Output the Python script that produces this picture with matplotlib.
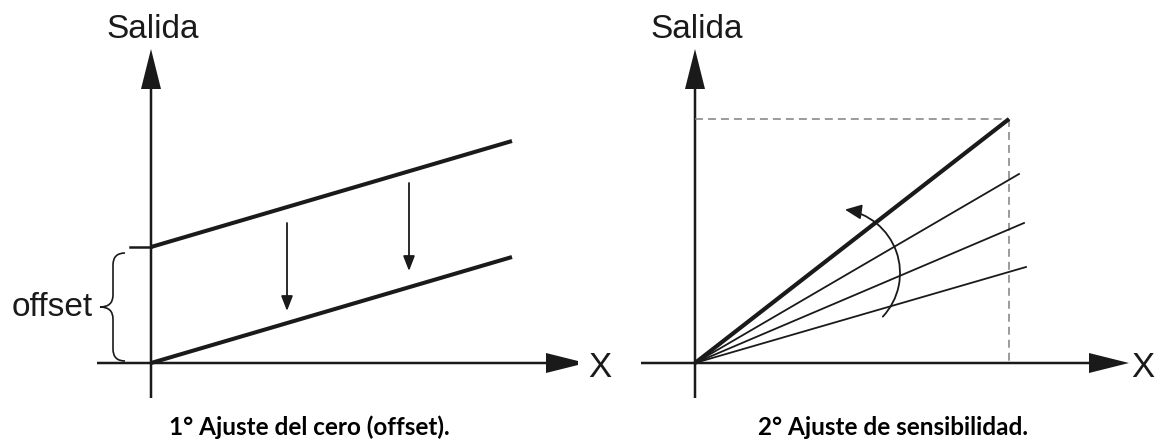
import matplotlib
matplotlib.use("Agg")
import matplotlib.pyplot as plt
from matplotlib.patches import FancyArrowPatch, PathPatch
from matplotlib.path import Path
from matplotlib.transforms import Affine2D

# units: pixels from each panel's origin (x right, y up)
# left panel: zero adjustment
line_x = [0, 361]
upper_y = [116, 222]
lower_y = [0, 106]
shift_x = [136, 258]
shift_top = [140, 180]
shift_bottom = [52, 92]

# right panel: sensitivity adjustment
full_x = 314
full_y = 244
thin_end_x = [324, 329, 331]
thin_end_y = [189, 140, 96]
turn_center = (141, 90)
turn_radius = 64
turn_angles = (-43, 82)

ink = "#1a1a1a"
label_font = "Liberation Sans"
caption_font = "Lato"

fig = plt.figure(figsize=(11.56, 4.44), dpi=100)
ax1 = fig.add_axes([0, 0, 0.5, 1])
ax2 = fig.add_axes([0.5, 0, 0.5, 1])
ax1.set_xlim(-151, 427)
ax2.set_xlim(-117, 461)
for ax in (ax1, ax2):
    ax.set_ylim(-81, 363)
    ax.axis("off")


def draw_axes(ax, x_end):
    # vertical axis with arrow
    ax.arrow(0, -35, 0, 349, width=2.5, head_width=20, head_length=40,
             length_includes_head=True, color=ink, lw=0)
    # horizontal axis with arrow
    ax.arrow(-54, 0, x_end + 54, 0, width=2.5, head_width=20, head_length=40,
             length_includes_head=True, color=ink, lw=0)
    ax.text(2, 325, "Salida", ha="center", va="baseline", fontsize=24,
            family=label_font, color=ink)
    ax.text(x_end + 14, -14, "X", ha="center", va="baseline", fontsize=25,
            family=label_font, color=ink)


draw_axes(ax1, 435)
draw_axes(ax2, 434)

# ---- left panel ----
ax1.plot(line_x, upper_y, color=ink, lw=2.9, solid_capstyle="butt")
ax1.plot(line_x, lower_y, color=ink, lw=2.9, solid_capstyle="butt")
ax1.plot([-21, 0], [upper_y[0], upper_y[0]], color=ink, lw=1.8)

for x, y0, y1 in zip(shift_x, shift_top, shift_bottom):
    ax1.add_patch(FancyArrowPatch((x, y0), (x, y1),
                                  arrowstyle="-|>,head_length=0.9,head_width=0.35",
                                  mutation_scale=10, color=ink, lw=1.3,
                                  shrinkA=0, shrinkB=0))

# curly brace for the offset
xe, xs, xt = -26, -38, -51
ytop, ybot = upper_y[0] - 6, lower_y[0] + 2
ymid = (ytop + ybot) / 2
r = 12
verts = [(xe, ytop), (xs, ytop), (xs, ytop - r),
         (xs, ymid + r),
         (xs, ymid), (xt, ymid),
         (xs, ymid), (xs, ymid - r),
         (xs, ybot + r),
         (xs, ybot), (xe, ybot)]
codes = [Path.MOVETO, Path.CURVE3, Path.CURVE3,
         Path.LINETO,
         Path.CURVE3, Path.CURVE3,
         Path.CURVE3, Path.CURVE3,
         Path.LINETO,
         Path.CURVE3, Path.CURVE3]
ax1.add_patch(PathPatch(Path(verts, codes), fill=False, ec=ink, lw=1.2))
ax1.text(-58, ymid, "offset", ha="right", va="center", fontsize=24,
         family=label_font, color=ink)

ax1.text(158, -72, "1° Ajuste del cero (offset).", ha="center", va="baseline",
         fontsize=17.5, family=caption_font, weight="bold", color="black")

# ---- right panel ----
dash = (0, (5.2, 3.3))
ax2.plot([0, full_x], [full_y, full_y], color="#808080", lw=1.1, ls=dash)
ax2.plot([full_x, full_x], [full_y, 0], color="#808080", lw=1.1, ls=dash)
ax2.plot([0, full_x], [0, full_y], color=ink, lw=3.0, solid_capstyle="butt")
for xe2, ye2 in zip(thin_end_x, thin_end_y):
    ax2.plot([0, xe2], [0, ye2], color=ink, lw=1.3)

arc = Path.arc(*turn_angles)
arc = Affine2D().scale(turn_radius).translate(*turn_center).transform_path(arc)
ax2.add_patch(FancyArrowPatch(path=arc,
                              arrowstyle="-|>,head_length=1.0,head_width=0.45",
                              mutation_scale=10, color=ink, lw=1.3))

ax2.text(198, -72, "2° Ajuste de sensibilidad.", ha="center", va="baseline",
         fontsize=17.5, family=caption_font, weight="bold", color="black")

fig.savefig("out.png", dpi=100)
